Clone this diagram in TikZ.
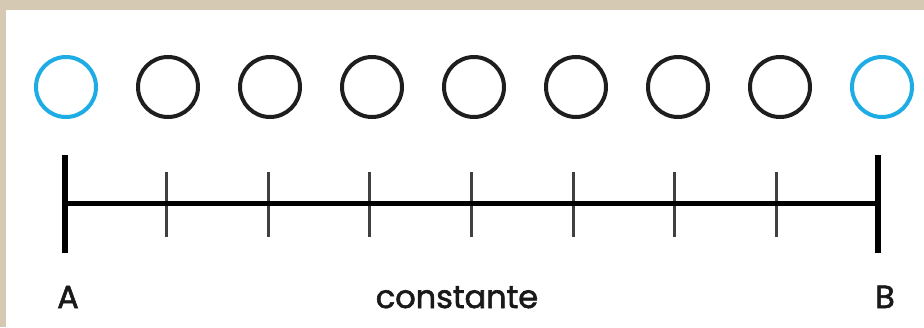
\documentclass[tikz,border=0pt]{standalone}
\usepackage{fontspec}
\setmainfont[FakeBold=1.8]{Poppins}
\definecolor{bgbeige}{RGB}{214,201,180}
\definecolor{cyanring}{RGB}{30,172,228}
\definecolor{darkring}{RGB}{30,30,30}
\tikzset{
  ring/.style={circle, draw=darkring, line width=4pt, minimum size=60pt, inner sep=0pt},
  endring/.style={ring, draw=cyanring},
  mainline/.style={line width=5pt, black},
  endtick/.style={line width=5.5pt, black},
  smalltick/.style={line width=3pt, darkring!85},
  lbl/.style={font=\fontsize{32}{34}\selectfont, text=black!90, anchor=base, inner sep=0pt}
}
\begin{document}
\begin{tikzpicture}[x=1pt,y=-1pt]
\useasboundingbox (0,0) rectangle (924,327);
\fill[bgbeige] (0,0) rectangle (924,327);
\fill[white] (6,10) rectangle (924,327);
% circles
\foreach \i in {0,...,8} {
  \pgfmathsetmacro{\cx}{66+102*\i}
  \ifnum\i=0
    \node[endring] (c\i) at (\cx,87) {};
  \else\ifnum\i=8
    \node[endring] (c\i) at (\cx,87) {};
  \else
    \node[ring] (c\i) at (\cx,87) {};
  \fi\fi
}
% scale
\foreach \i in {0,...,8} {
  \pgfmathsetmacro{\tx}{65+101.625*\i}
  \coordinate (m\i) at (\tx,203);
  \coordinate (tt\i) at (\tx,172);
  \coordinate (tb\i) at (\tx,237);
}
\coordinate (Atop) at (65,155);
\coordinate (Abot) at (65,253);
\coordinate (Btop) at (878,155);
\coordinate (Bbot) at (878,253);
\foreach \i in {1,...,7} {
  \draw[smalltick] (tt\i) -- (tb\i);
}
\draw[mainline] (m0) -- (m8);
\draw[endtick] (Atop) -- (Abot);
\draw[endtick] (Btop) -- (Bbot);
% labels
\node[lbl] (la) at (68,308) {A};
\node[lbl] (lc) at (457,308) {constante};
\node[lbl] (lb) at (885,308) {B};
\end{tikzpicture}
\end{document}
